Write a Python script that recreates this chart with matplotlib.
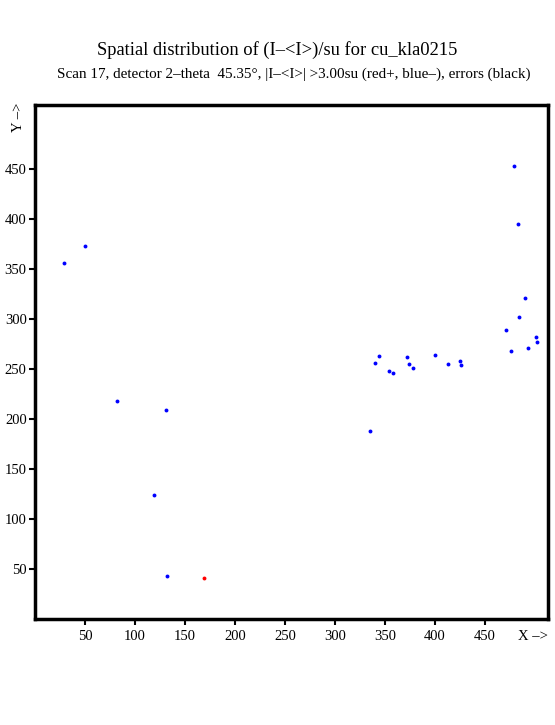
import matplotlib.pyplot as plt

plt.rcParams['font.family'] = ['Liberation Serif', 'DejaVu Serif']

# points with (I-<I>)/su below -3 (blue) and above +3 (red)
neg_x = [29, 50, 82, 131, 119, 132, 335, 340, 344, 354, 358, 372, 374, 378,
         400, 413, 425, 426, 479, 483, 490, 484, 471, 501, 502, 493, 476]
neg_y = [356, 373, 218, 209, 124, 43, 188, 256, 263, 248, 246, 262, 255, 251,
         264, 255, 258, 254, 453, 395, 321, 302, 289, 282, 277, 271, 268]
pos_x = [169]
pos_y = [41]

ticks = [50, 100, 150, 200, 250, 300, 350, 400, 450]

fig = plt.figure(figsize=(5.55, 7.25), dpi=100)
ax = fig.add_axes([35 / 555, 1 - 619 / 725, 513 / 555, 514 / 725])

ax.plot(neg_x, neg_y, 'o', color='blue', markersize=2.8, markeredgewidth=0)
ax.plot(pos_x, pos_y, 'o', color='red', markersize=2.8, markeredgewidth=0)

ax.set_xlim(0, 513)
ax.set_ylim(0, 514)
ax.set_xticks(ticks)
ax.set_yticks(ticks)
ax.tick_params(direction='out', length=4, width=1.5, labelsize=10.5, colors='black')
ax.tick_params(axis='x', pad=4)
ax.tick_params(axis='y', pad=2)
for s in ax.spines.values():
    s.set_linewidth(2.5)

fig.text(533 / 555, 1 - 636 / 725, 'X \u2013>', ha='center', va='center', fontsize=10.5)
fig.text(18 / 555, 1 - 117 / 725, 'Y \u2013>', ha='center', va='center', fontsize=10.5, rotation=90)

fig.text(0.5, 1 - 50 / 725, 'Spatial distribution of (I\u2013<I>)/su for cu_kla0215',
         ha='center', va='center', fontsize=13.3)
fig.text(293.5 / 555, 1 - 74 / 725,
         'Scan 17, detector 2\u2013theta  45.35\u00b0, |I\u2013<I>| >3.00su (red+, blue\u2013), errors (black)',
         ha='center', va='center', fontsize=10.9)

fig.savefig('out.png', dpi=100)
